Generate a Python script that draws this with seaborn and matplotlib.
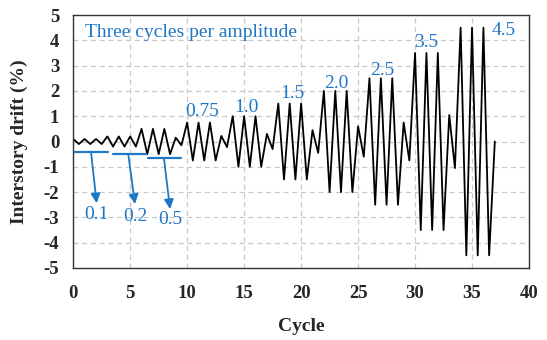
import matplotlib
matplotlib.use("Agg")
import matplotlib.pyplot as plt
import seaborn as sns
import pandas as pd

# ---- data ----
# cycle numbers (one peak per cycle at the cycle number, trough half a cycle later)
cycle_no = list(range(0, 37))
peak_drift = [0.1, 0.1, 0.1, 0.2, 0.2, 0.2, 0.5, 0.5, 0.5, 0.15,
              0.75, 0.75, 0.75, 0.22, 1.0, 1.0, 1.0, 0.3,
              1.5, 1.5, 1.5, 0.45, 2.0, 2.0, 2.0, 0.6,
              2.5, 2.5, 2.5, 0.75, 3.5, 3.5, 3.5, 1.05,
              4.5, 4.5, 4.5]
trough_drift = [-0.1, -0.1, -0.1, -0.2, -0.2, -0.2, -0.5, -0.5, -0.5, -0.15,
                -0.75, -0.75, -0.75, -0.22, -1.0, -1.0, -1.0, -0.3,
                -1.5, -1.5, -1.5, -0.45, -2.0, -2.0, -2.0, -0.6,
                -2.5, -2.5, -2.5, -0.75, -3.5, -3.5, -3.5, -1.05,
                -4.5, -4.5, -4.5]
end_cycle = 37
end_drift = 0.0

amp_labels = ["0.75", "1.0", "1.5", "2.0", "2.5", "3.5", "4.5"]
amp_label_x = [11.3, 15.2, 19.2, 23.1, 27.1, 31.0, 37.8]
amp_label_y = [1.18, 1.36, 1.9, 2.3, 2.8, 3.9, 4.38]

small_labels = ["0.1", "0.2", "0.5"]
small_line_x0 = [0.15, 3.5, 6.55]
small_line_x1 = [3.05, 6.4, 9.5]
small_line_y = [-0.4, -0.49, -0.64]
arrow_start_x = [1.56, 4.83, 7.96]
arrow_tip_x = [2.06, 5.42, 8.5]
arrow_tip_y = [-2.44, -2.47, -2.67]
small_label_y = [-2.9, -2.97, -3.1]

x_ticks = [0, 5, 10, 15, 20, 25, 30, 35, 40]
y_ticks = [-5, -4, -3, -2, -1, 0, 1, 2, 3, 4, 5]

# ---- build series ----
xs, ys = [], []
for c, p, t in zip(cycle_no, peak_drift, trough_drift):
    xs += [c, c + 0.5]
    ys += [p, t]
xs.append(end_cycle)
ys.append(end_drift)
df = pd.DataFrame({"Cycle": xs, "Drift": ys})

sns.set_theme(style="white")
plt.rcParams["font.family"] = ["Liberation Serif", "DejaVu Serif"]
plt.rcParams["axes.unicode_minus"] = False

BLUE = "#1f77c8"

fig = plt.figure(figsize=(5.47, 3.4), dpi=100)
ax = fig.add_axes([0.1338, 0.2118, 0.8333, 0.744])

sns.lineplot(data=df, x="Cycle", y="Drift", ax=ax, color="black",
             linewidth=1.3, estimator=None, sort=False)

ax.set_xlim(0, 40)
ax.set_ylim(-5, 5)
ax.set_xticks(x_ticks)
ax.set_yticks(y_ticks)
ax.set_xticklabels([str(v) for v in x_ticks], fontweight="bold", fontsize=13.5)
ax.set_yticklabels([str(v) for v in y_ticks], fontweight="bold", fontsize=13.5)
ax.tick_params(axis="both", direction="in", length=4, width=0.8, color="#333333")
ax.tick_params(axis="x", pad=12)
ax.tick_params(axis="y", pad=10)

ax.grid(True, color="#c8c8c8", linestyle=(0, (4, 3)), linewidth=0.9)
ax.set_axisbelow(True)
for s in ax.spines.values():
    s.set_color("#333333")
    s.set_linewidth(1.0)
    s.set_visible(True)

ax.set_xlabel("Cycle", fontweight="bold", fontsize=14, labelpad=12)
ax.set_ylabel("Interstory drift (%)", fontweight="bold", fontsize=14, labelpad=11)

ax.text(1.0, 4.3, "Three cycles per amplitude", color=BLUE, fontsize=14,
        ha="left", va="center")
for lab, lx, ly in zip(amp_labels, amp_label_x, amp_label_y):
    ax.text(lx, ly, lab, color=BLUE, fontsize=14, ha="center", va="center")

for lab, x0, x1, ly, sx, tx, ty, ty2 in zip(small_labels, small_line_x0, small_line_x1,
                                             small_line_y, arrow_start_x, arrow_tip_x,
                                             arrow_tip_y, small_label_y):
    ax.plot([x0, x1], [ly, ly], color=BLUE, linewidth=1.6)
    ax.annotate("", xy=(tx, ty), xytext=(sx, ly),
                arrowprops=dict(arrowstyle="-|>", color=BLUE, lw=1.3,
                                mutation_scale=14, shrinkA=0, shrinkB=0))
    ax.text(tx, ty2, lab, color=BLUE, fontsize=14, ha="center", va="center")

fig.savefig("out.png", dpi=100)
